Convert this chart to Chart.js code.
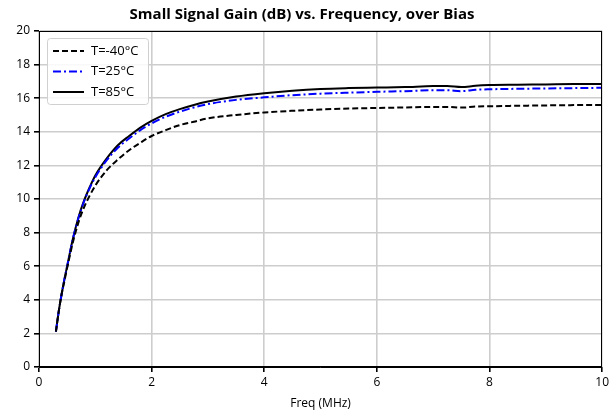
<!DOCTYPE html>
<html><head><meta charset="utf-8">
<script src="https://cdn.jsdelivr.net/npm/chart.js@4"></script>
<style>html,body{margin:0;padding:0;background:#fff}canvas{display:block}</style>
</head><body>
<canvas id="c" width="612" height="414"></canvas>
<script>
const freqMHz = [0.3,0.35,0.4,0.45,0.5,0.6,0.7,0.8,0.9,1.0,1.2,1.4,1.6,1.8,2.0,2.25,2.5,2.75,3.0,3.5,4.0,4.5,5.0,5.5,6.0,6.5,7.0,7.25,7.5,7.75,8.0,8.5,9.0,9.5,10];
const gainM40 = [2.1,3.3,4.3,5.1,5.9,7.4,8.6,9.5,10.2,10.8,11.7,12.35,12.9,13.35,13.75,14.1,14.4,14.6,14.8,15.0,15.15,15.25,15.33,15.38,15.42,15.45,15.48,15.48,15.44,15.5,15.52,15.55,15.57,15.59,15.6];
const gain25 = [2.1,3.3,4.3,5.2,6.0,7.6,8.85,9.85,10.65,11.3,12.3,13.05,13.6,14.1,14.5,14.9,15.2,15.45,15.65,15.9,16.05,16.18,16.27,16.33,16.38,16.42,16.47,16.47,16.42,16.5,16.53,16.56,16.58,16.6,16.62];
const gain85 = [2.1,3.3,4.3,5.2,6.0,7.6,8.9,9.9,10.7,11.4,12.4,13.2,13.75,14.25,14.65,15.05,15.35,15.6,15.8,16.1,16.3,16.45,16.55,16.6,16.63,16.66,16.72,16.72,16.66,16.74,16.78,16.8,16.82,16.84,16.85];
const seriesLabels = ['T=-40°C','T=25°C','T=85°C'];
const titleText = 'Small Signal Gain (dB) vs. Frequency, over Bias';
const xTitle = 'Freq (MHz)';

const FONT = "'Open Sans', sans-serif";
const pts = (ys) => freqMHz.map((x,i)=>({x, y: ys[i]}));

const frameAndLegend = {
  id: 'frameAndLegend',
  afterDatasetsDraw(chart) {
    const {ctx, chartArea: a} = chart;
    ctx.save();
    ctx.strokeStyle = '#000'; ctx.lineWidth = 1;
    ctx.strokeRect(Math.round(a.left)+0.5, Math.round(a.top)+0.5, Math.round(a.right-a.left)-1, Math.round(a.bottom-a.top)-1);
    // legend
    const x0 = a.left + 8, y0 = a.top + 7, w = 101, h = 66;
    ctx.globalAlpha = 0.85;
    ctx.fillStyle = '#fff';
    ctx.beginPath(); ctx.roundRect(x0+0.5, y0+0.5, w, h, 3); ctx.fill();
    ctx.globalAlpha = 1;
    ctx.strokeStyle = '#d0d0d0'; ctx.stroke();
    ctx.font = "13px " + FONT; ctx.textBaseline = 'middle'; ctx.textAlign = 'left';
    chart.data.datasets.forEach((ds, i) => {
      const yy = y0 + 13 + i*20.5;
      ctx.strokeStyle = ds.borderColor; ctx.lineWidth = ds.borderWidth;
      ctx.setLineDash(ds.borderDash || []);
      ctx.beginPath(); ctx.moveTo(x0+6, yy); ctx.lineTo(x0+37, yy); ctx.stroke();
      ctx.setLineDash([]);
      ctx.fillStyle = '#000';
      ctx.fillText(ds.label, x0+44, yy);
    });
    ctx.restore();
  }
};

new Chart(document.getElementById('c'), {
  type: 'line',
  data: {
    datasets: [
      {label: seriesLabels[0], data: pts(gainM40), borderColor: '#000', borderWidth: 2, borderDash: [6,3]},
      {label: seriesLabels[1], data: pts(gain25), borderColor: '#0000ff', borderWidth: 2, borderDash: [8,3,2,3]},
      {label: seriesLabels[2], data: pts(gain85), borderColor: '#000', borderWidth: 2}
    ]
  },
  options: {
    responsive: false, animation: false,
    elements: {point: {radius: 0}, line: {tension: 0.35, cubicInterpolationMode: 'monotone'}},
    layout: {padding: {left: 0, right: 8, top: 0, bottom: 0}},
    plugins: {
      legend: {display: false},
      tooltip: {enabled: false},
      title: {display: true, text: titleText, color: '#000', font: {family: FONT, size: 15, weight: 'bold'}, padding: {top: 6, bottom: 7}}
    },
    scales: {
      x: {
        type: 'linear', min: 0, max: 10,
        ticks: {stepSize: 2, color: '#000', font: {family: FONT, size: 12}, padding: 3, maxRotation: 0},
        grid: {color: '#cdcdcd', lineWidth: 1.6, tickColor: '#000', tickLength: 5},
        border: {display: true, color: '#000'},
        title: {display: true, text: xTitle, color: '#000', font: {family: FONT, size: 12}, padding: {top: 2, bottom: 3}},
        afterFit(s) { s.height = 47; }
      },
      y: {
        min: 0, max: 20,
        ticks: {stepSize: 2, color: '#000', font: {family: FONT, size: 12}, padding: 4},
        grid: {color: '#cdcdcd', lineWidth: 1.6, tickColor: '#000', tickLength: 5},
        border: {display: true, color: '#000'},
        afterFit(s) { s.width = 39; }
      }
    }
  },
  plugins: [frameAndLegend]
});
</script>
</body></html>
